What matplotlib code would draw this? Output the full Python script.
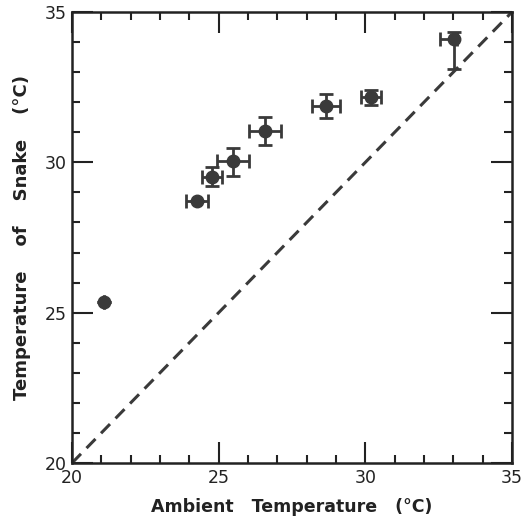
import matplotlib.pyplot as plt
from matplotlib.ticker import MultipleLocator

# ambient vs snake body temperature (deg C)
ambient = [21.1, 24.26, 24.78, 25.5, 26.58, 28.66, 30.18, 33.02]
snake = [25.35, 28.71, 29.52, 30.04, 31.04, 31.87, 32.16, 34.09]
amb_err_lo = [0.0, 0.37, 0.34, 0.54, 0.53, 0.49, 0.34, 0.48]
amb_err_hi = [0.0, 0.37, 0.34, 0.54, 0.53, 0.49, 0.34, 0.10]
snk_err_lo = [0.0, 0.0, 0.31, 0.5, 0.48, 0.39, 0.25, 1.0]
snk_err_hi = [0.0, 0.0, 0.31, 0.45, 0.48, 0.39, 0.25, 0.25]
line_xy = [20, 35]

dark = '#3a3a3a'

fig = plt.figure(figsize=(5.28, 5.20), dpi=100)
ax = fig.add_axes([72/528, 1-463/520, 440/528, 451/520])

ax.plot(line_xy, line_xy, color=dark, linestyle=(0, (4.2, 2.6)), linewidth=2.2)
ax.errorbar(ambient, snake, xerr=[amb_err_lo, amb_err_hi], yerr=[snk_err_lo, snk_err_hi],
            fmt='o', color=dark, ecolor=dark, markersize=9, elinewidth=2,
            capsize=5, capthick=2, zorder=3)

ax.set_xlim(20, 35)
ax.set_ylim(20, 35)
ax.xaxis.set_major_locator(MultipleLocator(5))
ax.yaxis.set_major_locator(MultipleLocator(5))
ax.xaxis.set_minor_locator(MultipleLocator(1))
ax.yaxis.set_minor_locator(MultipleLocator(1))
ax.tick_params(which='both', direction='in', top=True, right=True, width=1.5,
               labelsize=12.5, colors='#222222')
ax.tick_params(which='major', length=15, pad=4)
ax.tick_params(which='minor', length=6)
for s in ax.spines.values():
    s.set_linewidth(1.8)
    s.set_color('#222222')

ax.set_xlabel('Ambient   Temperature   (°C)', fontsize=12.5, fontweight='bold',
              color='#222222', labelpad=8)
ax.set_ylabel('Temperature    of    Snake    (°C)', fontsize=13, fontweight='bold',
              color='#222222', labelpad=10)

fig.savefig('out.png', dpi=100)
